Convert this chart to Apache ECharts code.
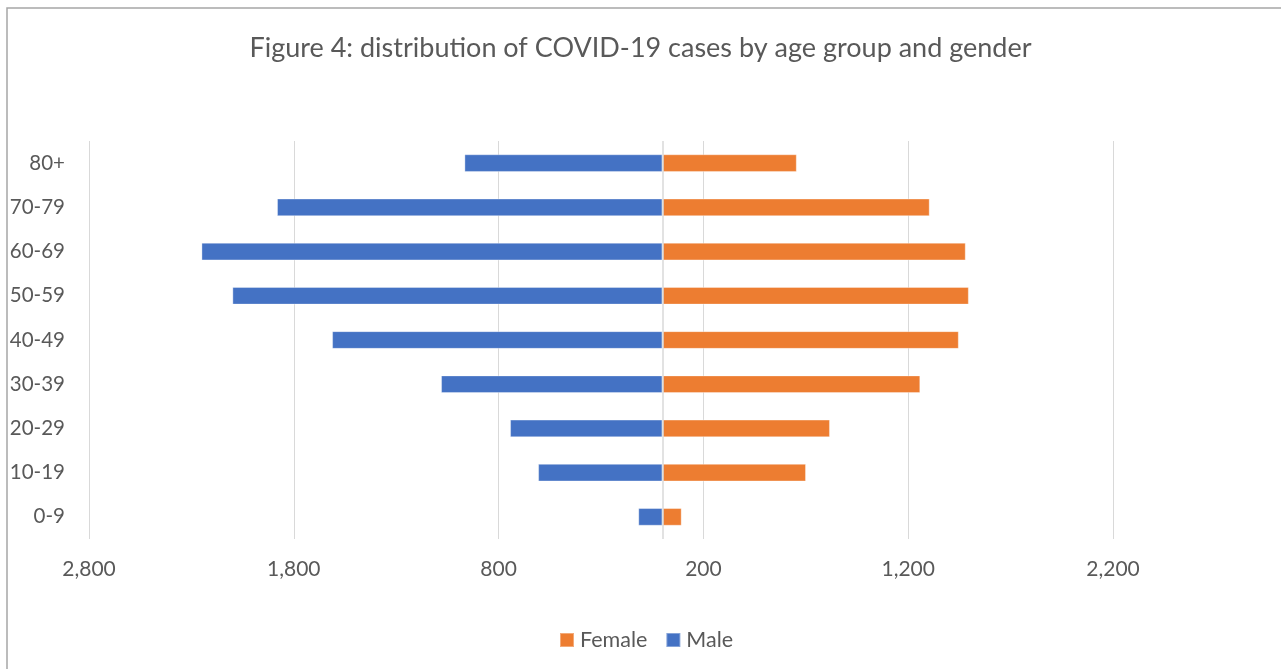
<!DOCTYPE html>
<html>
<head>
<meta charset="utf-8">
<script src="https://cdn.jsdelivr.net/npm/echarts@6.0.0/dist/echarts.min.js"></script>
<style>
  html, body { margin: 0; padding: 0; background: #fff; }
  #chart { width: 1281px; height: 669px; }
</style>
</head>
<body>
<div id="chart"></div>
<script>
const titleText = 'Figure 4: distribution of COVID-19 cases by age group and gender';
const ageGroups = ['0-9', '10-19', '20-29', '30-39', '40-49', '50-59', '60-69', '70-79', '80+'];
const maleCases = [118, 607, 744, 1081, 1613, 2100, 2251, 1882, 967];
const femaleCases = [94, 701, 818, 1259, 1447, 1496, 1481, 1305, 656];
const xTicks = [-2800, -1800, -800, 200, 1200, 2200];

const FONT = 'Lato';
const TEXT = '#595959';
const GRID = '#d9d9d9';

const chart = echarts.init(document.getElementById('chart'), null, { renderer: 'canvas' });

chart.setOption({
  animation: false,
  backgroundColor: '#ffffff',
  textStyle: { fontFamily: FONT },
  title: {
    text: titleText,
    left: 'center',
    top: 30,
    textStyle: { fontFamily: FONT, fontSize: 27, fontWeight: 'normal', color: TEXT }
  },
  graphic: [{
    type: 'rect',
    shape: { x: 7, y: 8, width: 1400, height: 800 },
    style: { fill: 'none', stroke: '#a6a6a6', lineWidth: 1.5 },
    silent: true,
    z: 100
  }],
  legend: {
    data: ['Female', 'Male'],
    left: 559,
    top: 629,
    padding: 0,
    icon: 'rect',
    itemWidth: 14,
    itemHeight: 14,
    itemGap: 18,
    textStyle: { fontFamily: FONT, fontSize: 21.5, color: TEXT, padding: [0, 0, 0, 1] }
  },
  grid: { left: 89, right: 168, top: 141, bottom: 130, containLabel: false },
  xAxis: {
    type: 'value',
    min: -2800,
    max: 2200,
    axisLine: { show: false },
    axisTick: { show: false, customValues: xTicks },
    splitLine: { show: true, lineStyle: { color: GRID, width: 1 } },
    axisLabel: {
      customValues: xTicks,
      margin: 20,
      fontFamily: FONT,
      fontSize: 21,
      color: TEXT,
      formatter: v => Math.abs(v).toLocaleString('en-US')
    }
  },
  yAxis: {
    type: 'category',
    data: ageGroups,
    position: 'left',
    axisLine: { show: false, onZero: false },
    axisTick: { show: false },
    splitLine: { show: false },
    axisLabel: { margin: 24, fontFamily: FONT, fontSize: 20.5, color: TEXT }
  },
  series: [
    {
      name: 'Male',
      type: 'bar',
      data: maleCases.map(v => -v),
      barGap: '-100%',
      barCategoryGap: '60%',
      itemStyle: { color: '#4472C4', borderColor: 'rgba(255,255,255,0.35)', borderWidth: 1 },
      z: 2
    },
    {
      name: 'Female',
      type: 'bar',
      data: femaleCases,
      barGap: '-100%',
      barCategoryGap: '60%',
      itemStyle: { color: '#ED7D31', borderColor: 'rgba(255,255,255,0.35)', borderWidth: 1 },
      z: 2,
      markLine: {
        silent: true,
        symbol: 'none',
        label: { show: false },
        lineStyle: { color: GRID, type: 'solid', width: 1.5 },
        data: [{ xAxis: 0 }],
        z: 5
      }
    }
  ]
});
</script>
</body>
</html>
